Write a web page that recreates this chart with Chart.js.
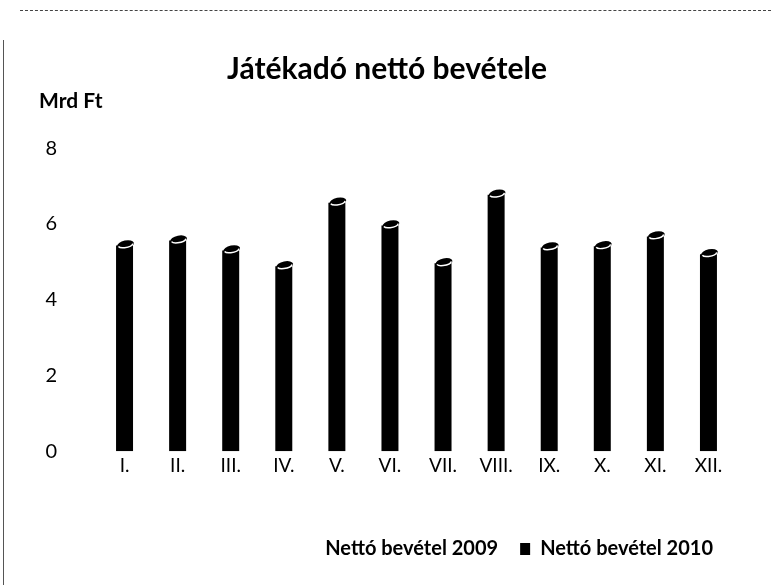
<!DOCTYPE html>
<html>
<head>
<meta charset="utf-8">
<script src="https://cdn.jsdelivr.net/npm/chart.js@4/dist/chart.umd.min.js"></script>
<style>
  html, body { margin: 0; padding: 0; background: #fff; }
  #wrap { position: relative; width: 771px; height: 585px; }
  #frame-top { position: absolute; left: 20px; right: 0; top: 10px; border-top: 1px dashed #444; }
  #frame-left { position: absolute; left: 3px; top: 40px; bottom: 0; border-left: 1px solid #555; }
</style>
</head>
<body>
<div id="wrap">
  <canvas id="chart" width="771" height="585"></canvas>
  <div id="frame-top"></div>
  <div id="frame-left"></div>
</div>
<script>
// months (Roman numerals) and yearly net revenue, Mrd Ft
const months = ['I.', 'II.', 'III.', 'IV.', 'V.', 'VI.', 'VII.', 'VIII.', 'IX.', 'X.', 'XI.', 'XII.'];
const netto2009 = [null, null, null, null, null, null, null, null, null, null, null, null]; // not visible in scan
const netto2010 = [5.43, 5.56, 5.30, 4.88, 6.56, 5.96, 4.96, 6.77, 5.38, 5.41, 5.67, 5.20];
const yTicks = [0, 2, 4, 6, 8];

const FONT = 'Lato, "Open Sans", sans-serif';

// little cylinder cap on top of each bar so it reads like the 3D original
const cylinderTops = {
    id: 'cylinderTops',
    afterDatasetsDraw(chart) {
        const meta = chart.getDatasetMeta(1);
        const ctx = chart.ctx;
        meta.data.forEach(bar => {
            const r = bar.width / 2;
            ctx.save();
            ctx.fillStyle = '#000';
            ctx.beginPath();
            ctx.ellipse(bar.x + 1, bar.y - 1, r, 4, -0.2, 0, Math.PI * 2);
            ctx.fill();
            ctx.strokeStyle = '#fff';
            ctx.lineWidth = 1.5;
            ctx.beginPath();
            ctx.ellipse(bar.x + 1, bar.y - 1, r - 1, 3, -0.2, 0.2, Math.PI - 0.2);
            ctx.stroke();
            ctx.restore();
        });
    }
};

new Chart(document.getElementById('chart'), {
    type: 'bar',
    data: {
        labels: months,
        datasets: [
            { label: 'Nettó bevétel 2009', data: netto2009, backgroundColor: '#fff', borderWidth: 0 },
            { label: 'Nettó bevétel 2010', data: netto2010, backgroundColor: '#000', borderWidth: 0 },
        ],
    },
    options: {
        responsive: false,
        animation: false,
        grouped: false,
        categoryPercentage: 0.8,
        barPercentage: 0.4,
        layout: { padding: { left: 39, right: 36, top: 41, bottom: 16 } },
        plugins: {
            title: {
                display: true, text: 'Játékadó nettó bevétele', color: '#000',
                font: { family: FONT, size: 30, weight: 'bold' }, padding: { top: 10, bottom: 2 },
            },
            subtitle: {
                display: true, text: 'Mrd Ft', align: 'start', color: '#000',
                font: { family: FONT, size: 21, weight: 'bold' }, padding: { top: 0, bottom: 34 },
            },
            legend: {
                position: 'bottom', align: 'end',
                labels: {
                    color: '#000', boxWidth: 10, boxHeight: 12, padding: 22,
                    font: { family: FONT, size: 20, weight: 'bold' },
                },
            },
            tooltip: { enabled: false },
        },
        scales: {
            x: {
                grid: { display: false, drawTicks: false }, border: { display: false },
                ticks: { color: '#000', font: { family: FONT, size: 19 }, padding: 3 },
                afterFit(scale) { scale.height += 37; },
            },
            y: {
                min: 0, max: 8,
                afterBuildTicks(scale) { scale.ticks = yTicks.map(v => ({ value: v })); },
                afterFit(scale) { scale.width = 59; },
                grid: { display: false }, border: { display: false },
                ticks: { color: '#000', font: { family: FONT, size: 20 }, padding: 33 },
            },
        },
    },
    plugins: [cylinderTops],
});
</script>
</body>
</html>
